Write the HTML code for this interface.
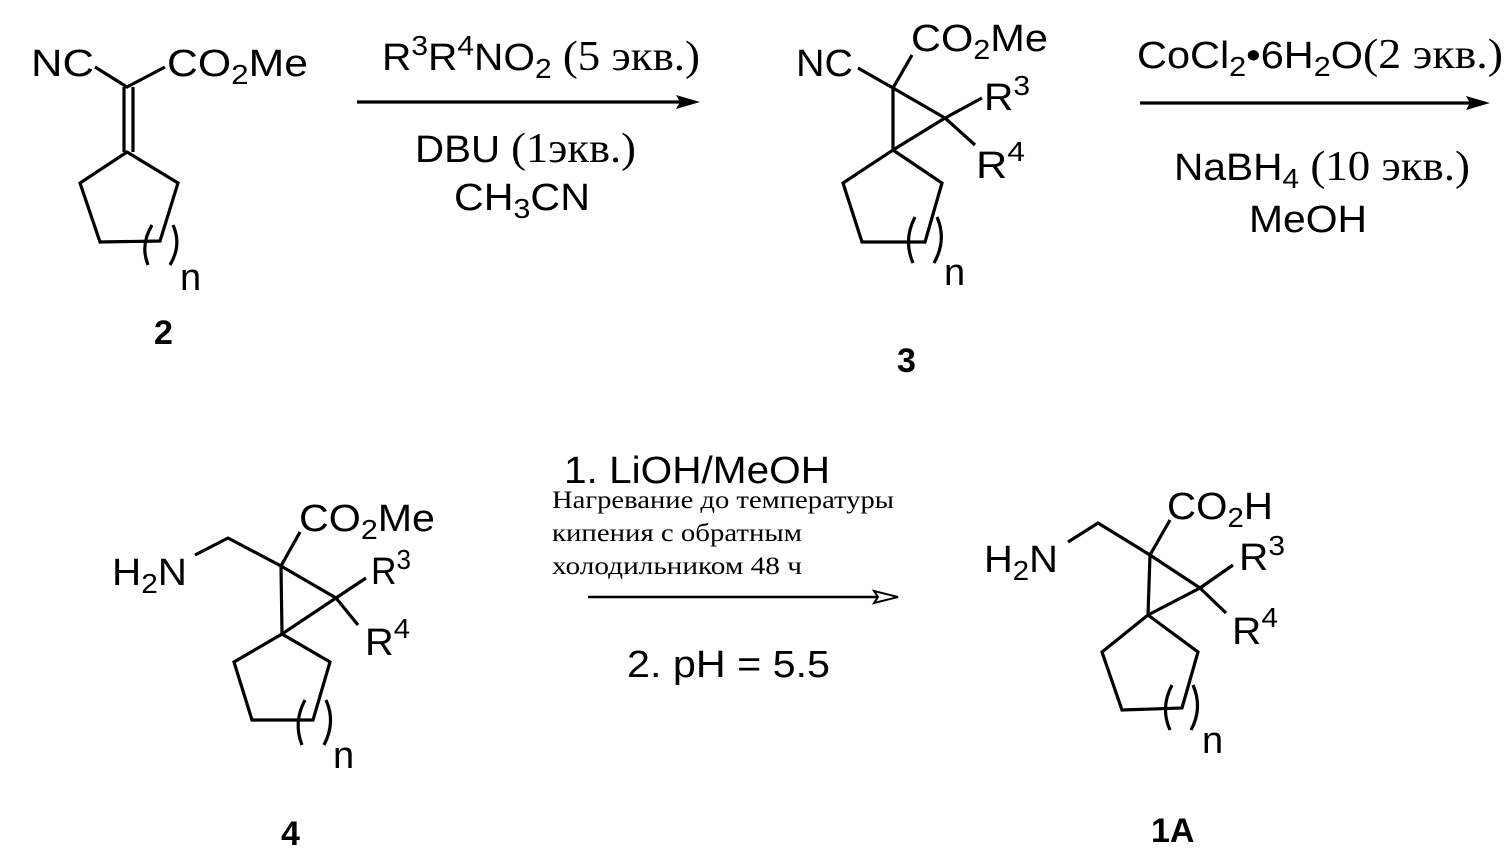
<!DOCTYPE html>
<html><head><meta charset="utf-8"><style>
html,body{margin:0;padding:0;background:#fff;}
svg{display:block;}
text{font-family:"Liberation Sans",sans-serif;font-size:38px;fill:#000;}
.s{font-family:"Liberation Serif",serif;font-size:42px;}
.ru{font-family:"Liberation Serif",serif;font-size:25px;}
.b{font-weight:bold;font-size:34px;}
</style></head><body>
<svg width="1509" height="866" viewBox="0 0 1509 866" xmlns="http://www.w3.org/2000/svg">
<g stroke="#000" stroke-width="3.2" fill="none" stroke-linejoin="miter">
<polyline points="95,67 127,87 165,67"/>
<line x1="124" y1="87" x2="124" y2="152"/><line x1="133" y1="87" x2="133" y2="152"/>
<polygon points="127,152 178,183 160,241 100,242 80,183"/>
<path d="M152,225 Q140,245 148,265"/><path d="M173,225 Q182,245 170,265"/>
<line x1="858" y1="68" x2="893" y2="88"/><line x1="893" y1="88" x2="912" y2="55"/>
<polygon points="893,88 893,150 945,118"/>
<line x1="945" y1="118" x2="982" y2="98"/><line x1="945" y1="118" x2="975" y2="145"/>
<polygon points="893,150 942,183 925,242 862,242 843,183"/>
<path d="M915,217 Q903,240 913,263"/><path d="M937,217 Q947,240 934,263"/>
<polyline points="195,555 228,538 281,566 300,532"/>
<polygon points="281,566 282,634 336,598"/>
<line x1="336" y1="598" x2="366" y2="578"/><line x1="336" y1="598" x2="358" y2="625"/>
<polygon points="282,634 330,662 313,720 252,720 234,662"/>
<path d="M305,700 Q293,722 302,745"/><path d="M326,700 Q336,722 324,745"/>
<polyline points="1068,542 1098,523 1150,555 1170,520"/>
<polygon points="1150,555 1148,615 1200,588"/>
<line x1="1200" y1="588" x2="1233" y2="565"/><line x1="1200" y1="588" x2="1226" y2="613"/>
<polygon points="1148,615 1198,652 1182,708 1122,710 1102,652"/>
<path d="M1172,685 Q1160,708 1170,730"/><path d="M1193,685 Q1203,708 1191,730"/>
<line x1="357" y1="102" x2="685" y2="102"/>
<line x1="1140" y1="103" x2="1475" y2="103"/>
<line x1="588" y1="597" x2="882" y2="597" stroke-width="2.5"/>
</g>
<g fill="#000">
<polygon points="700,102 676,95 680,102 676,109"/>
<polygon points="1490,103 1466,96 1470,103 1466,110"/>
<polygon points="898,597 874,591 878,597 874,603" fill="#fff" stroke="#000" stroke-width="2"/>
</g>
<text x="31" y="76" textLength="63" lengthAdjust="spacingAndGlyphs">NC</text>
<text x="167" y="76" textLength="141" lengthAdjust="spacingAndGlyphs">CO<tspan font-size="28" dy="8">2</tspan><tspan dy="-8">Me</tspan></text>
<text x="180" y="290" font-size="36">n</text>
<text class="b" x="154" y="344">2</text>
<text x="796" y="76" textLength="57" lengthAdjust="spacingAndGlyphs">NC</text>
<text x="911" y="51" textLength="137" lengthAdjust="spacingAndGlyphs">CO<tspan font-size="28" dy="8">2</tspan><tspan dy="-8">Me</tspan></text>
<text x="984" y="110" textLength="46" lengthAdjust="spacingAndGlyphs">R<tspan font-size="28" dy="-15">3</tspan></text>
<text x="976" y="178" textLength="49" lengthAdjust="spacingAndGlyphs">R<tspan font-size="28" dy="-17">4</tspan></text>
<text x="944" y="285" font-size="36">n</text>
<text class="b" x="897" y="372">3</text>
<text x="112" y="585" textLength="75" lengthAdjust="spacingAndGlyphs">H<tspan font-size="28" dy="8">2</tspan><tspan dy="-8">N</tspan></text>
<text x="299" y="531" textLength="136" lengthAdjust="spacingAndGlyphs">CO<tspan font-size="28" dy="8">2</tspan><tspan dy="-8">Me</tspan></text>
<text x="371" y="584" textLength="40" lengthAdjust="spacingAndGlyphs">R<tspan font-size="28" dy="-15">3</tspan></text>
<text x="365" y="655" textLength="45" lengthAdjust="spacingAndGlyphs">R<tspan font-size="28" dy="-17">4</tspan></text>
<text x="333" y="768" font-size="36">n</text>
<text class="b" x="281" y="845">4</text>
<text x="984" y="572" textLength="74" lengthAdjust="spacingAndGlyphs">H<tspan font-size="28" dy="8">2</tspan><tspan dy="-8">N</tspan></text>
<text x="1167" y="519" textLength="106" lengthAdjust="spacingAndGlyphs">CO<tspan font-size="28" dy="8">2</tspan><tspan dy="-8">H</tspan></text>
<text x="1239" y="570" textLength="46" lengthAdjust="spacingAndGlyphs">R<tspan font-size="28" dy="-15">3</tspan></text>
<text x="1232" y="644" textLength="46" lengthAdjust="spacingAndGlyphs">R<tspan font-size="28" dy="-17">4</tspan></text>
<text x="1202" y="753" font-size="36">n</text>
<text class="b" x="1151" y="842">1A</text>
<text x="382" y="70" textLength="318" lengthAdjust="spacingAndGlyphs">R<tspan font-size="28" dy="-15">3</tspan><tspan dy="15">R</tspan><tspan font-size="28" dy="-15">4</tspan><tspan dy="15">NO</tspan><tspan font-size="28" dy="8">2</tspan><tspan class="s" dy="-8"> (5 экв.)</tspan></text>
<text x="415" y="162" textLength="221" lengthAdjust="spacingAndGlyphs">DBU<tspan class="s"> (1экв.)</tspan></text>
<text x="454" y="210" textLength="136" lengthAdjust="spacingAndGlyphs">CH<tspan font-size="28" dy="8">3</tspan><tspan dy="-8">CN</tspan></text>
<text x="1137" y="68" textLength="366" lengthAdjust="spacingAndGlyphs">CoCl<tspan font-size="28" dy="8">2</tspan><tspan dy="-8">•6H</tspan><tspan font-size="28" dy="8">2</tspan><tspan dy="-8">O</tspan><tspan class="s">(2 экв.)</tspan></text>
<text x="1174" y="180" textLength="296" lengthAdjust="spacingAndGlyphs">NaBH<tspan font-size="28" dy="8">4</tspan><tspan class="s" dy="-8"> (10 экв.)</tspan></text>
<text x="1249" y="232" textLength="118" lengthAdjust="spacingAndGlyphs">MeOH</text>
<text x="564" y="483" textLength="266" lengthAdjust="spacingAndGlyphs">1. LiOH/MeOH</text>
<text class="ru" x="552" y="508" textLength="342" lengthAdjust="spacingAndGlyphs">Нагревание до температуры</text>
<text class="ru" x="552" y="541" textLength="250" lengthAdjust="spacingAndGlyphs">кипения с обратным</text>
<text class="ru" x="552" y="574" textLength="250" lengthAdjust="spacingAndGlyphs">холодильником 48 ч</text>
<text x="627" y="677" textLength="203" lengthAdjust="spacingAndGlyphs">2. pH = 5.5</text>
</svg>
</body></html>
